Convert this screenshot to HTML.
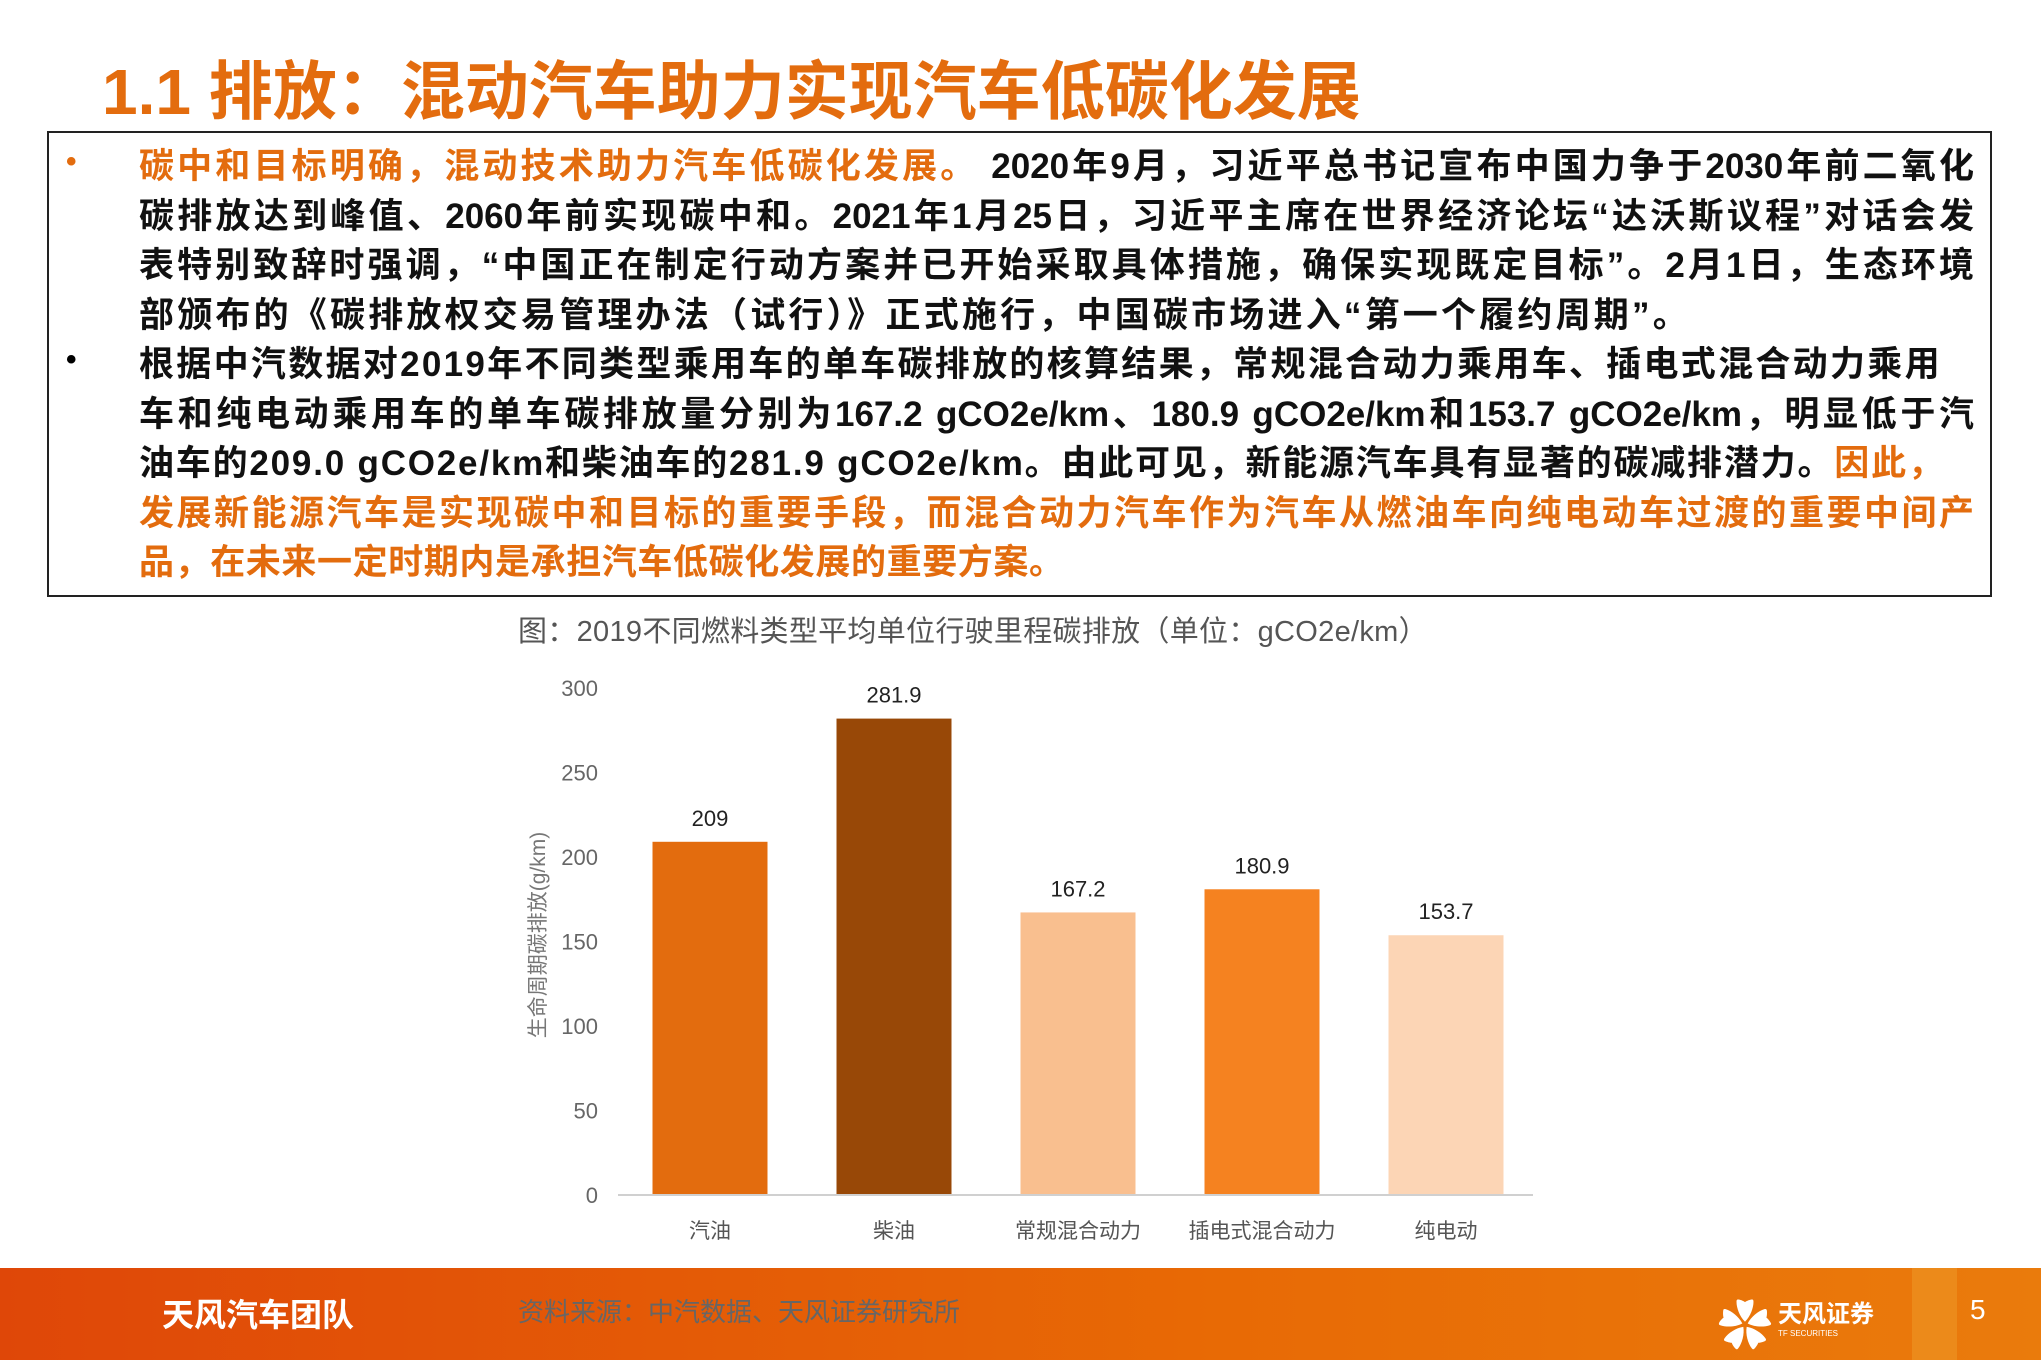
<!DOCTYPE html>
<html><head><meta charset="utf-8"><style>
body{margin:0;width:2041px;height:1360px;position:relative;background:#fff;overflow:hidden;font-family:"Liberation Sans","Noto Sans CJK SC",sans-serif}
.title{position:absolute;left:102px;top:41px;font-size:64px;font-weight:bold;color:#e36c0e;white-space:nowrap}
.box{position:absolute;left:47px;top:131px;width:1945px;height:466px;border:2px solid #222;box-sizing:border-box}
.p{position:absolute;left:139px;width:1835px;font-size:35px;font-weight:bold;line-height:49.5px;color:#111}
.p div{white-space:nowrap}
.j{text-align:justify;text-align-last:justify}
.o{color:#e36c0e}
.b{position:absolute;left:66px;font-size:30px;font-weight:bold}
.cap{position:absolute;left:518px;top:608px;font-size:29px;color:#555;white-space:nowrap;letter-spacing:0.3px}
.foot{position:absolute;left:0;top:1268px;width:2041px;height:92px;background:linear-gradient(90deg,#df4708,#e86a05 60%,#ea7b0c)}
</style></head><body>
<div class="title">1.1 排放：混动汽车助力实现汽车低碳化发展</div>
<div class="box"></div>
<div class="b o" style="top:145px">•</div>
<div class="b" style="top:343px">•</div>
<div class="p" style="top:142px">
<div class="j"><span class="o">碳中和目标明确，混动技术助力汽车低碳化发展。</span> 2020年9月，习近平总书记宣布中国力争于2030年前二氧化</div>
<div class="j">碳排放达到峰值、2060年前实现碳中和。2021年1月25日，习近平主席在世界经济论坛“达沃斯议程”对话会发</div>
<div class="j">表特别致辞时强调，“中国正在制定行动方案并已开始采取具体措施，确保实现既定目标”。2月1日，生态环境</div>
<div style="letter-spacing:3.2px">部颁布的《碳排放权交易管理办法（试行）》正式施行，中国碳市场进入“第一个履约周期”。</div>
</div>
<div class="p" style="top:340px">
<div style="letter-spacing:2.3px">根据中汽数据对2019年不同类型乘用车的单车碳排放的核算结果，常规混合动力乘用车、插电式混合动力乘用</div>
<div class="j">车和纯电动乘用车的单车碳排放量分别为167.2 gCO2e/km、180.9 gCO2e/km和153.7 gCO2e/km，明显低于汽</div>
<div style="letter-spacing:1.8px">油车的209.0 gCO2e/km和柴油车的281.9 gCO2e/km。由此可见，新能源汽车具有显著的碳减排潜力。<span class="o">因此，</span></div>
<div class="j o">发展新能源汽车是实现碳中和目标的重要手段，而混合动力汽车作为汽车从燃油车向纯电动车过渡的重要中间产</div>
<div class="o" style="letter-spacing:0.6px">品，在未来一定时期内是承担汽车低碳化发展的重要方案。</div>
</div>
<div class="cap">图：2019不同燃料类型平均单位行驶里程碳排放（单位：gCO2e/km）</div>
<svg id="chart" style="position:absolute;left:0;top:0" width="2041" height="1360"></svg>
<div class="foot">
<div style="position:absolute;left:162px;top:22px;font-size:32px;font-weight:bold;color:#fff">天风汽车团队</div>
<div style="position:absolute;left:518px;top:24px;font-size:26px;color:#666">资料来源：中汽数据、天风证券研究所</div>
<div style="position:absolute;left:1718px;top:14px;font-size:54px;color:#fff">✿</div>
<div style="position:absolute;left:1778px;top:26px;font-size:24px;font-weight:bold;color:#fff">天风证券<div style="font-size:8px;font-weight:normal">TF SECURITIES</div></div>
<div style="position:absolute;left:1912px;top:0;width:45px;height:92px;background:#ec8a1a"></div>
<div style="position:absolute;left:1970px;top:26px;font-size:28px;color:#fff">5</div>
</div>
<script>
const categories=["汽油","柴油","常规混合动力","插电式混合动力","纯电动"];
const values=[209,281.9,167.2,180.9,153.7];
const valueLabels=["209","281.9","167.2","180.9","153.7"];
const ticks=[0,50,100,150,200,250,300];
const colors=["#e36c0e","#984807","#f9bf8f","#f58220","#fcd5b5"];
const svg=document.getElementById('chart');const NS="http://www.w3.org/2000/svg";
const y0=1195,pxPer=507/300,x0=618,step=184,bw=115;
const y=v=>y0-v*pxPer;const xc=i=>x0+92+i*step;
function mk(t,a,txt){const e=document.createElementNS(NS,t);for(const k in a)e.setAttribute(k,a[k]);if(txt!=null)e.textContent=txt;svg.appendChild(e);return e;}
ticks.forEach(t=>{const e=mk('text',{x:598,y:y(t)+8,'text-anchor':'end','font-size':22,fill:'#666','font-family':'Liberation Sans'},t);

});
values.forEach((v,i)=>{const r=mk('rect',{x:xc(i)-bw/2,y:y(v),width:bw,height:v*pxPer,fill:colors[i]});


const l=mk('text',{x:xc(i),y:y(v)-16,'text-anchor':'middle','font-size':22,fill:'#222','font-family':'Liberation Sans'},valueLabels[i]);


const c=mk('text',{x:xc(i),y:1238,'text-anchor':'middle','font-size':21,fill:'#555','font-family':'Liberation Sans, Noto Sans CJK SC, sans-serif'},categories[i]);

});
const ax=mk('line',{x1:x0,x2:1533,y1:y0,y2:y0,stroke:'#d0d0d0','stroke-width':2});


const yt=mk('text',{x:0,y:0,transform:'translate(545,935) rotate(-90)','text-anchor':'middle','font-size':21,fill:'#777','font-family':'Liberation Sans, Noto Sans CJK SC, sans-serif'},'生命周期碳排放(g/km)');


</script>
</body></html>
